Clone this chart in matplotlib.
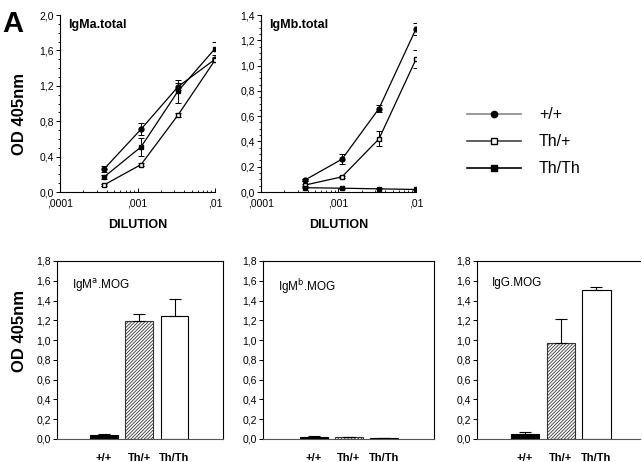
import numpy as np
import matplotlib
matplotlib.use("Agg")
import matplotlib.pyplot as plt
from matplotlib.lines import Line2D
from matplotlib.ticker import FixedLocator, MultipleLocator, FuncFormatter

plt.rcParams['font.family'] = ['Liberation Sans', 'DejaVu Sans']
plt.rcParams['hatch.linewidth'] = 0.6
plt.rcParams['hatch.color'] = '#444444'

# dilution series (top panels)
dilucao = [1 / 2700, 1 / 900, 1 / 300, 1 / 100]

igma_wt = [0.26, 0.71, 1.19, 1.50]
igma_wt_err = [0.03, 0.07, 0.04, 0.03]
igma_het = [0.08, 0.31, 0.87, 1.49]
igma_het_err = [0.01, 0.02, 0.02, 0.02]
igma_hom = [0.17, 0.51, 1.14, 1.62]
igma_hom_err = [0.02, 0.10, 0.13, 0.07]

igmb_wt = [0.095, 0.26, 0.66, 1.29]
igmb_wt_err = [0.01, 0.04, 0.03, 0.05]
igmb_het = [0.055, 0.12, 0.42, 1.05]
igmb_het_err = [0.005, 0.01, 0.06, 0.07]
igmb_hom = [0.034, 0.03, 0.025, 0.02]
igmb_hom_err = [0.003, 0.003, 0.003, 0.003]

# MOG bars (bottom panels)
genotipos = ["+/+", "Th/+", "Th/Th"]
mog_igma = [0.04, 1.19, 1.24]
mog_igma_err = [0.01, 0.07, 0.18]
mog_igmb = [0.025, 0.02, 0.01]
mog_igmb_err = [0.01, 0.005, 0.002]
mog_igg = [0.05, 0.97, 1.51]
mog_igg_err = [0.02, 0.24, 0.03]

fig = plt.figure(figsize=(6.42, 4.62), dpi=100)

virgula = FuncFormatter(lambda v, p: f"{v:.1f}".replace(".", ","))
rotulo_log = {1e-4: ",0001", 1e-3: ",001", 1e-2: ",01"}


def painel_linha(pos, titulo, wt, wt_e, het, het_e, hom, hom_e, ymax, passo, minor):
    ax = fig.add_axes(pos)
    kw = dict(color="black", lw=0.9, ms=3.5, capsize=2, elinewidth=0.7, capthick=0.7)
    ax.errorbar(dilucao, wt, yerr=wt_e, marker="o", **kw)
    ax.errorbar(dilucao, het, yerr=het_e, marker="s", mfc="white", **kw)
    ax.errorbar(dilucao, hom, yerr=hom_e, marker="s", **kw)
    ax.set_xscale("log")
    ax.set_xlim(1e-4, 1e-2)
    ax.set_ylim(0, ymax)
    ax.xaxis.set_major_locator(FixedLocator([1e-4, 1e-3, 1e-2]))
    ax.xaxis.set_major_formatter(FuncFormatter(lambda v, p: rotulo_log.get(round(v, 6), "")))
    ax.yaxis.set_major_locator(MultipleLocator(passo))
    ax.yaxis.set_minor_locator(MultipleLocator(minor))
    ax.yaxis.set_major_formatter(virgula)
    for s in ["top", "right"]:
        ax.spines[s].set_visible(False)
    for s in ["left", "bottom"]:
        ax.spines[s].set_linewidth(0.8)
    ax.tick_params(axis="both", labelsize=7.5, length=3, width=0.7, pad=1.5)
    ax.tick_params(axis="x", which="both", direction="in", pad=5)
    ax.tick_params(axis="both", which="minor", length=1.5)
    ax.text(0.05, 0.98, titulo, transform=ax.transAxes, fontsize=9,
            fontweight="bold", va="top")
    ax.set_xlabel("DILUTION", fontsize=9, fontweight="bold", labelpad=7)
    return ax


def painel_barra(pos, titulo, vals, errs, xlim, direita=True):
    ax = fig.add_axes(pos)
    x = np.arange(1, len(genotipos) + 1)
    estilos = [dict(color="black", edgecolor="black"),
               dict(color="white", edgecolor="#333333", hatch="//////////"),
               dict(color="white", edgecolor="black")]
    for xi, v, e, st in zip(x, vals, errs, estilos):
        ax.bar(xi, v, width=0.79, linewidth=0.8, **st)
        ax.errorbar(xi, v, yerr=[[0], [e]], color="black", lw=0.8,
                    capsize=4.5, capthick=0.8, fmt="none")
    ax.set_xlim(*xlim)
    ax.set_ylim(0, 1.8)
    ax.yaxis.set_major_locator(MultipleLocator(0.2))
    ax.yaxis.set_major_formatter(virgula)
    ax.set_xticks(x)
    ax.set_xticklabels(genotipos, fontsize=8, fontweight="bold")
    ax.tick_params(axis="x", length=0, pad=10)
    ax.tick_params(axis="y", labelsize=7.5, length=3, width=0.7, pad=1.5)
    for s in ax.spines.values():
        s.set_linewidth(0.8)
    ax.spines["bottom"].set_color("#555555")
    if not direita:
        ax.spines["right"].set_visible(False)
    ax.text(0.09, 0.91, titulo, transform=ax.transAxes, fontsize=8.5, va="top")
    return ax


ax1 = painel_linha([0.0935, 0.5844, 0.2414, 0.3831], "IgMa.total",
                   igma_wt, igma_wt_err, igma_het, igma_het_err,
                   igma_hom, igma_hom_err, 2.0, 0.4, 0.1)
ax2 = painel_linha([0.4065, 0.5844, 0.2414, 0.3831], "IgMb.total",
                   igmb_wt, igmb_wt_err, igmb_het, igmb_het_err,
                   igmb_hom, igmb_hom_err, 1.4, 0.2, 0.05)
ax1.set_ylabel("OD 405nm", fontsize=12, fontweight="bold")
ax1.yaxis.set_label_coords(-0.21, 0.44)

ax3 = painel_barra([0.0888, 0.0498, 0.2586, 0.3853], "IgM$^{\\mathrm{a}}$.MOG",
                   mog_igma, mog_igma_err, (-0.333, 4.376))
ax4 = painel_barra([0.4097, 0.0498, 0.2664, 0.3853], "IgM$^{\\mathrm{b}}$.MOG",
                   mog_igmb, mog_igmb_err, (-0.457, 4.43))
ax5 = painel_barra([0.743, 0.0498, 0.254, 0.3853], "IgG.MOG",
                   mog_igg, mog_igg_err, (-0.343, 4.22), direita=False)
ax3.set_ylabel("OD 405nm", fontsize=12, fontweight="bold")
ax3.yaxis.set_label_coords(-0.18, 0.607)

fig.text(0.004, 0.947, "A", fontsize=21, fontweight="bold", va="center")

alcas = [
    Line2D([], [], color="#888888", lw=1.2, marker="o", ms=4.5, mfc="black", mec="black"),
    Line2D([], [], color="#444444", lw=1.2, marker="s", ms=4.5, mfc="white", mec="black"),
    Line2D([], [], color="black", lw=1.2, marker="s", ms=4.5, mfc="black", mec="black"),
]
fig.legend(alcas, genotipos, loc="center left", bbox_to_anchor=(0.715, 0.693),
           frameon=False, fontsize=11.5, handlelength=3.4, handletextpad=1.1,
           labelspacing=0.75, borderpad=0)

fig.savefig("out.png", dpi=100)
